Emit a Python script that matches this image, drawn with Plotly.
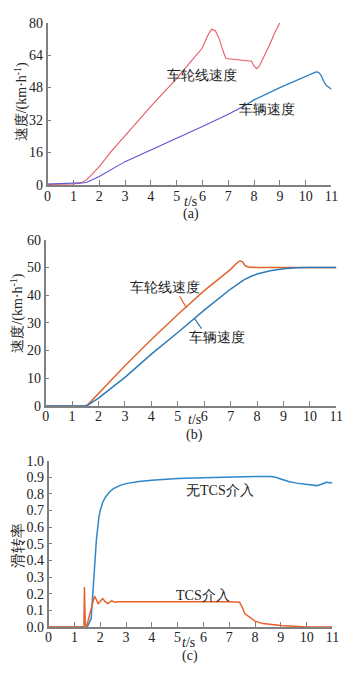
import plotly.graph_objects as go

# ---------- data ----------
# (a)
a_t_wheel = [0, 0.5, 1.0, 1.3, 1.5, 1.7, 2.0, 2.5, 3.0, 3.5, 4.0, 4.5, 5.0, 5.5, 6.0, 6.2, 6.35, 6.5, 6.65, 6.8, 6.9, 7.0, 7.5, 7.9, 8.0, 8.1, 8.2, 8.4, 8.6, 8.8, 9.0]
a_wheel = [0.3, 0.3, 0.5, 1.0, 2.5, 5, 9, 17, 24.5, 31.5, 38.7, 45.5, 52.4, 60, 67.6, 73.5, 76.8, 76, 72, 66, 62.5, 62.2, 61.6, 61, 58.5, 57.3, 58.5, 63.5, 69, 75, 80]
a_t_veh1 = [0, 0.7, 1.0, 1.3, 1.5, 1.7, 2.0, 3, 4, 5, 6, 7, 7.6]
a_veh1 = [0.5, 0.6, 0.9, 1.0, 1.2, 2.5, 4.2, 11.5, 17.2, 22.8, 28.8, 34.8, 38.8]
a_t_veh2 = [7.6, 8, 9, 10, 10.2, 10.4, 10.5, 10.6, 10.7, 10.8, 11]
a_veh2 = [38.8, 41.9, 48.0, 53.5, 54.8, 55.7, 55.5, 54, 51, 49, 47.2]

# (b)
b_t_wheel = [0, 1.0, 1.5, 1.6, 1.8, 2.0, 3, 4, 5, 6, 7, 7.2, 7.35, 7.45, 7.55, 7.7, 8, 9, 10, 11]
b_wheel = [0, 0, 0, 0.5, 2.5, 4.5, 14.5, 24, 33, 41.6, 49.3, 51.3, 52.4, 52.0, 50.6, 50.1, 50, 50, 50, 50]
b_t_veh = [0, 1.0, 1.5, 1.6, 1.8, 2, 3, 4, 5, 6, 7, 7.5, 7.8, 8, 8.5, 9, 9.5, 10, 11]
b_veh = [0, 0, 0, 0.3, 1.5, 2.8, 10.3, 18.7, 26.5, 34.6, 42.2, 45.5, 46.9, 47.6, 48.8, 49.5, 49.85, 50, 50]

# (c)
c_t_no = [0, 1.5, 1.65, 1.7, 1.75, 1.8, 1.85, 1.9, 1.95, 2.0, 2.1, 2.2, 2.35, 2.5, 2.75, 3, 3.5, 4, 5, 6, 7, 8, 8.6, 8.8, 9, 9.3, 9.6, 10, 10.4, 10.6, 10.75, 11]
c_no = [0, 0, 0.05, 0.15, 0.25, 0.4, 0.52, 0.6, 0.66, 0.7, 0.75, 0.78, 0.81, 0.83, 0.85, 0.862, 0.875, 0.882, 0.893, 0.898, 0.903, 0.905, 0.905, 0.9, 0.89, 0.875, 0.865, 0.858, 0.85, 0.86, 0.87, 0.866]
c_t_tcs = [0, 1.37, 1.39, 1.40, 1.42, 1.47, 1.52, 1.6, 1.7, 1.78, 1.85, 1.92, 2.0, 2.1, 2.2, 2.3, 2.45, 2.55, 2.7, 3.0, 4, 5, 6, 7, 7.4, 7.5, 7.6, 7.8, 8.0, 8.3, 8.7, 9.0, 9.5, 10, 11]
c_tcs = [0, 0, 0.24, 0.12, 0.02, 0, 0.03, 0.09, 0.15, 0.185, 0.165, 0.14, 0.155, 0.17, 0.15, 0.14, 0.158, 0.148, 0.152, 0.152, 0.153, 0.154, 0.153, 0.152, 0.148, 0.12, 0.08, 0.055, 0.035, 0.02, 0.012, 0.008, 0.004, 0, 0]

x_ticks = list(range(0, 12))
a_yticks = [0, 16, 32, 48, 64, 80]
b_yticks = [0, 10, 20, 30, 40, 50, 60]
c_yticks = [0.0, 0.1, 0.2, 0.3, 0.4, 0.5, 0.6, 0.7, 0.8, 0.9, 1.0]

# ---------- figure ----------
W, H = 354, 675
SERIF = "Liberation Serif"
TXT = "#222222"
AX = "#808080"

fig = go.Figure()
fig.add_trace(go.Scatter(x=a_t_wheel, y=a_wheel, mode="lines", line=dict(color="#e65a66", width=1.1), xaxis="x", yaxis="y"))
fig.add_trace(go.Scatter(x=a_t_veh1, y=a_veh1, mode="lines", line=dict(color="#5f55d4", width=1.1), xaxis="x", yaxis="y"))
fig.add_trace(go.Scatter(x=a_t_veh2, y=a_veh2, mode="lines", line=dict(color="#2f7fc0", width=1.3), xaxis="x", yaxis="y"))

fig.add_trace(go.Scatter(x=b_t_wheel, y=b_wheel, mode="lines", line=dict(color="#e2652f", width=1.5), xaxis="x2", yaxis="y2"))
fig.add_trace(go.Scatter(x=b_t_veh, y=b_veh, mode="lines", line=dict(color="#2c7bb8", width=1.5), xaxis="x2", yaxis="y2"))

fig.add_trace(go.Scatter(x=c_t_no, y=c_no, mode="lines", line=dict(color="#2f86c8", width=1.5), xaxis="x3", yaxis="y3"))
fig.add_trace(go.Scatter(x=c_t_tcs, y=c_tcs, mode="lines", line=dict(color="#e8602a", width=1.5), xaxis="x3", yaxis="y3"))


def px_dom(a, b, total):
    return [a / total, b / total]


def ydom(top, bottom):
    return [1 - bottom / H, 1 - top / H]


def xaxis(dom, anchor):
    return dict(domain=dom, anchor=anchor, range=[0, 11], tickvals=x_ticks,
                ticks="inside", ticklen=5, tickcolor=AX, showline=True, linecolor=AX,
                linewidth=1.5, showgrid=False, zeroline=False, ticklabelstandoff=-3,
                tickfont=dict(family=SERIF, size=14, color=TXT))


def yaxis(dom, anchor, rng, vals, fmt=None):
    d = dict(domain=dom, anchor=anchor, range=rng, tickvals=vals,
             ticks="inside", ticklen=4, tickcolor=AX, showline=True, linecolor=AX,
             linewidth=1.5, showgrid=False, zeroline=False,
             tickfont=dict(family=SERIF, size=14, color=TXT))
    if fmt:
        d["tickformat"] = fmt
    return d


fig.update_layout(
    width=W, height=H, margin=dict(l=0, r=0, t=0, b=0),
    paper_bgcolor="white", plot_bgcolor="white", showlegend=False,
    font=dict(family=SERIF),
    xaxis=xaxis(px_dom(45, 338, W), "y"),
    yaxis=yaxis(ydom(16, 182), "x", [0, 80], a_yticks),
    xaxis2=xaxis(px_dom(43, 343, W), "y2"),
    yaxis2=yaxis(ydom(238, 408), "x2", [0, 60], b_yticks),
    xaxis3=xaxis(px_dom(46, 339, W), "y3"),
    yaxis3=yaxis(ydom(464, 634), "x3", [0, 1.0], c_yticks, ".1f"),
)

ann = []


def paper_text(text, x, y, size=14, angle=0):
    ann.append(dict(text=text, x=x / W, y=1 - y / H, xref="paper", yref="paper",
                    showarrow=False, textangle=angle, xanchor="center", yanchor="middle",
                    font=dict(family=SERIF, size=size, color=TXT)))


def data_text(text, x, y, xr, yr, size=14):
    ann.append(dict(text=text, x=x, y=y, xref=xr, yref=yr, showarrow=False,
                    xanchor="center", yanchor="middle",
                    font=dict(family=SERIF, size=size, color=TXT)))


# axis titles and panel labels
paper_text("速度/(km·h<sup>-1</sup>)", 18, 97, 14, -90)
paper_text("<i>t</i>/s", 192, 199, 14)
paper_text("(a)", 193, 212, 14)

paper_text("速度/(km·h<sup>-1</sup>)", 13, 313, 14, -90)
paper_text("<i>t</i>/s", 197, 422, 14)
paper_text("(b)", 197, 438, 14)

paper_text("滑转率", 14, 551, 15, -90)
paper_text("<i>t</i>/s", 190, 650, 14)
paper_text("(c)", 192, 664, 14)

# curve labels
data_text("车轮线速度", 6.0, 54, "x", "y")
data_text("车辆速度", 8.5, 37, "x", "y")
data_text("车轮线速度", 4.5, 42.8, "x2", "y2")
data_text("车辆速度", 6.5, 24.6, "x2", "y2")
data_text("无TCS介入", 6.65, 0.82, "x3", "y3")
data_text("TCS介入", 5.97, 0.19, "x3", "y3")

# leader lines in (b)
leaders = [
    dict(x0=5.07, y0=39.6, x1=5.33, y1=35.4, color="#e2652f"),
    dict(x0=5.64, y0=31.4, x1=5.90, y1=27.9, color="#2c7bb8"),
]
for l in leaders:
    fig.add_shape(type="line", xref="x2", yref="y2", x0=l["x0"], y0=l["y0"],
                  x1=l["x1"], y1=l["y1"], line=dict(color=l["color"], width=1.2))

fig.update_layout(annotations=ann)
fig.write_html("out.html")
